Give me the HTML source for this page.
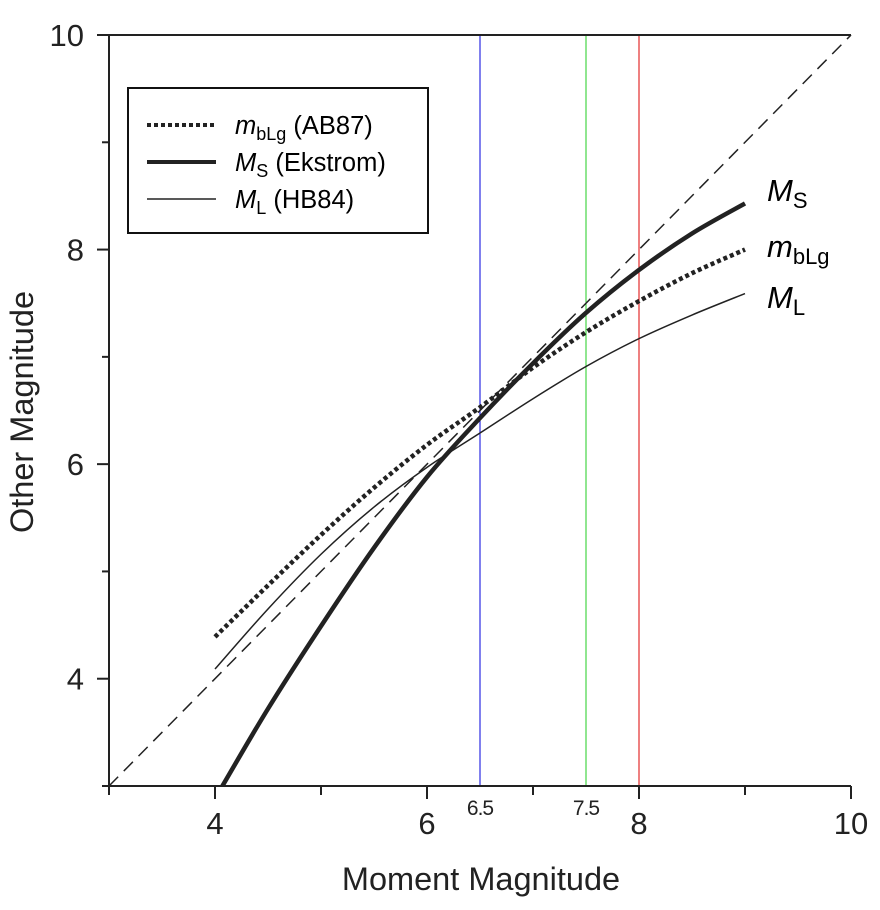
<!DOCTYPE html>
<html><head><meta charset="utf-8"><style>
html,body{margin:0;padding:0;background:#fff;}
svg{display:block;font-family:"Liberation Sans",sans-serif;}
</style></head><body>
<svg id="chart" width="880" height="910" viewBox="0 0 880 910">
<g id="marks"></g>
<g id="axes"></g>
<g>
  <rect x="128" y="88" width="300" height="145" fill="#fff" stroke="#111" stroke-width="2"/>
  <line x1="147" y1="125" x2="216" y2="125" stroke="#222" stroke-width="4" stroke-dasharray="4,3"/>
  <text x="235" y="134" font-size="25.5"><tspan font-style="italic">m</tspan><tspan font-size="18" dy="6">bLg</tspan><tspan dy="-6"> (AB87)</tspan></text>
  <line x1="147" y1="162" x2="216" y2="162" stroke="#222" stroke-width="4"/>
  <text x="235" y="171" font-size="25.5"><tspan font-style="italic">M</tspan><tspan font-size="18" dy="6">S</tspan><tspan dy="-6"> (Ekstrom)</tspan></text>
  <line x1="147" y1="199" x2="216" y2="199" stroke="#222" stroke-width="1.5"/>
  <text x="235" y="208" font-size="25.5"><tspan font-style="italic">M</tspan><tspan font-size="18" dy="6">L</tspan><tspan dy="-6"> (HB84)</tspan></text>
</g>
<text x="767" y="201" font-size="31"><tspan font-style="italic">M</tspan><tspan font-size="22" dy="7">S</tspan></text>
<text x="767" y="257" font-size="31"><tspan font-style="italic">m</tspan><tspan font-size="22" dy="7">bLg</tspan></text>
<text x="767" y="308" font-size="31"><tspan font-style="italic">M</tspan><tspan font-size="22" dy="7">L</tspan></text>
<text x="481" y="890" font-size="32.5" text-anchor="middle" fill="#222">Moment Magnitude</text>
<text x="0" y="0" font-size="32.5" text-anchor="middle" fill="#222" transform="translate(33,412) rotate(-90)">Other Magnitude</text>
</svg>
<script>
const xs = [4.0, 4.5, 5.0, 5.5, 6.0, 6.5, 7.0, 7.5, 8.0, 8.5, 9.0];
const msX = [4.07, 4.5, 5.0, 5.5, 6.0, 6.5, 7.0, 7.5, 8.0, 8.5, 9.0];
const msY = [3.0, 3.72, 4.49, 5.22, 5.88, 6.43, 6.94, 7.41, 7.81, 8.15, 8.43];
const mblgY = [4.39, 4.87, 5.34, 5.78, 6.18, 6.53, 6.90, 7.23, 7.52, 7.78, 8.0];
const mlY = [4.09, 4.65, 5.16, 5.60, 5.97, 6.29, 6.61, 6.91, 7.17, 7.39, 7.59];
const refLines = [6.5, 7.5, 8.0];
const refColors = ['#0000dd', '#22cc22', '#dd0000'];
const xMajor = [4, 6, 8, 10];
const xMinor = [3, 5, 7, 9];
const xSmallLabels = [6.5, 7.5];
const yMajor = [4, 6, 8, 10];
const yMinor = [3, 5, 7, 9];

const X0 = 109, X1 = 851, Y0 = 786, Y1 = 35;
const sx = v => X0 + (v - 3) / 7 * (X1 - X0);
const sy = v => Y0 - (v - 3) / 7 * (Y0 - Y1);
const NS = 'http://www.w3.org/2000/svg';
const marks = document.getElementById('marks');
const axes = document.getElementById('axes');
function mk(tag, attrs, parent) {
  const e = document.createElementNS(NS, tag);
  for (const k in attrs) e.setAttribute(k, attrs[k]);
  parent.appendChild(e);
  return e;
}
refLines.forEach((v, i) => {
  const l = mk('line', {x1: sx(v), x2: sx(v), y1: Y1, y2: Y0, stroke: refColors[i], 'stroke-width': 1}, marks);
  
  
});
const diag = mk('line', {x1: sx(3), y1: sy(3), x2: sx(10), y2: sy(10), stroke: '#222', 'stroke-width': 1.5, 'stroke-dasharray': '13,8'}, marks);


function smooth(px, py) {
  const p = px.map((x, i) => [sx(x), sy(py[i])]);
  let d = 'M' + p[0][0] + ',' + p[0][1];
  for (let i = 0; i < p.length - 1; i++) {
    const a = p[Math.max(i - 1, 0)], b = p[i], c = p[i + 1], e = p[Math.min(i + 2, p.length - 1)];
    const c1 = [b[0] + (c[0] - a[0]) / 6, b[1] + (c[1] - a[1]) / 6];
    const c2 = [c[0] - (e[0] - b[0]) / 6, c[1] - (e[1] - b[1]) / 6];
    d += 'C' + c1 + ' ' + c2 + ' ' + c;
  }
  return d;
}
const pMl = mk('path', {d: smooth(xs, mlY), fill: 'none', stroke: '#222', 'stroke-width': 1.5}, marks);


const pMb = mk('path', {d: smooth(xs, mblgY), fill: 'none', stroke: '#222', 'stroke-width': 4.5, 'stroke-dasharray': '4,3'}, marks);


const pMs = mk('path', {d: smooth(msX, msY), fill: 'none', stroke: '#222', 'stroke-width': 4.5}, marks);



const ax = mk('path', {d: 'M' + X0 + ',' + Y1 + 'V' + Y0 + 'H' + X1 + 'M97,' + Y1 + 'H' + X1, stroke: '#222', 'stroke-width': 2, fill: 'none'}, axes);


xMajor.forEach(v => {
  const t = mk('line', {x1: sx(v), x2: sx(v), y1: Y0, y2: Y0 + 13, stroke: '#222', 'stroke-width': 2}, axes);
  
  
  const tx = mk('text', {x: sx(v), y: 834, 'font-size': 31, 'text-anchor': 'middle', fill: '#222'}, axes);
  tx.textContent = v;
  
  
});
xMinor.forEach(v => {
  const t = mk('line', {x1: sx(v), x2: sx(v), y1: Y0, y2: Y0 + 9, stroke: '#222', 'stroke-width': 2}, axes);
  
  
});
xSmallLabels.forEach(v => {
  const tx = mk('text', {x: sx(v), y: 815, 'font-size': 21, 'text-anchor': 'middle', fill: '#222', 'letter-spacing': -1}, axes);
  tx.textContent = v;
  
  
});
yMajor.forEach(v => {
  const t = mk('line', {x1: 97, x2: X0, y1: sy(v), y2: sy(v), stroke: '#222', 'stroke-width': 2}, axes);
  
  
  const tx = mk('text', {x: 84, y: sy(v) + 11, 'font-size': 31, 'text-anchor': 'end', fill: '#222'}, axes);
  tx.textContent = v;
  
  
});
yMinor.forEach(v => {
  const t = mk('line', {x1: 102, x2: X0, y1: sy(v), y2: sy(v), stroke: '#222', 'stroke-width': 2}, axes);
  
  
});
</script>
</body></html>
